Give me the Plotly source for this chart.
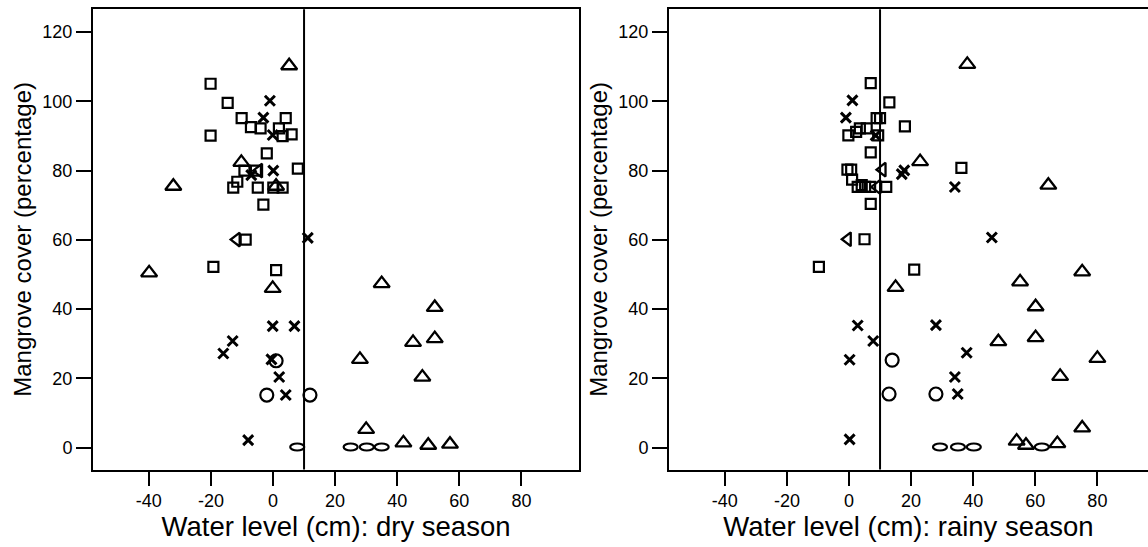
import plotly.graph_objects as go

# ---------------- data: dry season (left panel) ----------------
dry_sq_x = [-20.1, -14.6, -10.1, 4.1, -7.1, -4.0, 1.9, -20.1, 3.1, 6.0, -2.0, 8.0, -9.2, -5.5,
            -11.5, -12.8, -4.9, 0.1, 3.1, -3.1, -8.8, -19.2, 1.0]
dry_sq_y = [105.1, 99.6, 95.2, 95.2, 92.6, 92.2, 92.2, 90.1, 90.0, 90.5, 85.0, 80.6, 80.0, 80.0,
            76.8, 75.1, 75.1, 75.1, 75.1, 70.2, 60.1, 52.2, 51.3]
dry_x_x = [-1.0, -3.1, -0.1, 0.1, -7.0, 11.2, -0.1, 6.9, -13.0, -16.0, -0.5, 2.0, 4.1, -8.0]
dry_x_y = [100.2, 95.3, 90.3, 80.0, 78.7, 60.6, 35.1, 35.1, 30.8, 27.2, 25.5, 20.4, 15.2, 2.2]
dry_tri_x = [5.2, -10.2, -32.1, 1.0, -39.9, -0.1, 35.0, 52.1, 45.1, 52.1, 28.0, 48.1, 30.0, 42.0, 50.0, 57.0]
dry_tri_y = [110.3, 82.4, 75.5, 75.5, 50.5, 46.0, 47.4, 40.5, 30.4, 31.5, 25.5, 20.4, 5.3, 1.4, 0.7, 1.0]
dry_ltri_x = [-11.7, -4.5]
dry_ltri_y = [60.1, 80.0]
dry_circ_x = [1.0, -2.0, 11.9]
dry_circ_y = [25.1, 15.2, 15.2]
dry_ell_x = [7.8, 25.0, 30.2, 35.0]
dry_ell_y = [0.2, 0.2, 0.2, 0.2]

# ---------------- data: rainy season (right panel) ----------------
wet_sq_x = [7.0, 13.0, 8.9, 10.0, 18.0, 3.5, 5.7, 2.3, -0.2, 9.4, 7.0, 36.2, -0.5, 0.7, 1.0,
            2.8, 4.1, 5.2, 6.8, 12.0, 7.0, 5.0, -9.7, 21.0]
wet_sq_y = [105.3, 99.7, 95.2, 95.2, 92.8, 92.2, 92.2, 91.2, 90.2, 90.2, 85.3, 80.8, 80.3, 80.3, 77.4,
            75.3, 75.8, 75.3, 75.3, 75.3, 70.4, 60.2, 52.2, 51.4]
wet_x_x = [1.1, -1.0, 8.6, 17.8, 17.0, 34.1, 46.0, 2.8, 28.0, 7.8, 37.9, 0.2, 34.1, 35.0, 0.2]
wet_x_y = [100.3, 95.3, 90.2, 80.1, 79.0, 75.3, 60.7, 35.3, 35.4, 30.8, 27.4, 25.4, 20.4, 15.5, 2.4]
wet_tri_x = [38.1, 22.9, 64.2, 75.1, 55.1, 15.0, 60.1, 60.1, 48.1, 80.0, 68.0, 75.1, 54.0, 57.0, 67.1]
wet_tri_y = [110.7, 82.6, 75.8, 50.8, 47.9, 46.3, 40.7, 31.8, 30.6, 25.8, 20.6, 5.7, 1.9, 0.7, 1.2]
wet_ltri_x = [10.8, 9.1, -0.4]
wet_ltri_y = [80.3, 75.3, 60.2]
wet_circ_x = [13.9, 12.9, 28.0]
wet_circ_y = [25.3, 15.5, 15.5]
wet_ell_x = [29.3, 35.1, 40.2, 62.1]
wet_ell_y = [0.2, 0.2, 0.2, 0.2]

x_ticks = [-40, -20, 0, 20, 40, 60, 80]
y_ticks = [0, 20, 40, 60, 80, 100, 120]
threshold = 10

FONT = "Liberation Sans, Arial, sans-serif"
fig = go.Figure()


def add_panel(xa, ya, sq, xx, tri, ltri, circ, ell):
    common = dict(mode="markers", xaxis=xa, yaxis=ya, showlegend=False, hoverinfo="x+y")
    fig.add_trace(go.Scatter(x=sq[0], y=sq[1], marker=dict(symbol="square-open", size=10, color="black",
                                                               line=dict(width=2.2, color="black")), **common))
    fig.add_trace(go.Scatter(x=tri[0], y=tri[1], marker=dict(symbol="triangle-up-open", size=14, color="black",
                                                                 line=dict(width=2.3, color="black")), **common))
    fig.add_trace(go.Scatter(x=ltri[0], y=ltri[1], marker=dict(symbol="triangle-left-open", size=12, color="black",
                                                                   line=dict(width=2.3, color="black")), **common))
    fig.add_trace(go.Scatter(x=circ[0], y=circ[1], marker=dict(symbol="circle-open", size=13, color="black",
                                                                   line=dict(width=2.2, color="black")), **common))
    fig.add_trace(go.Scatter(x=xx[0], y=xx[1], marker=dict(symbol="x-thin-open", size=10, color="black",
                                                               line=dict(width=3, color="black")), **common))
    xref = "x" if xa == "x" else "x2"
    yref = "y" if ya == "y" else "y2"
    for ex, ey in zip(ell[0], ell[1]):
        fig.add_shape(type="circle", xref=xref, yref=yref, xsizemode="pixel", ysizemode="pixel",
                      xanchor=ex, yanchor=ey, x0=-7, x1=7, y0=-3.5, y1=3.5,
                      line=dict(color="black", width=2.2))
    fig.add_shape(type="line", xref=xref, yref=f"{yref} domain", x0=threshold, x1=threshold, y0=0, y1=1,
                  line=dict(color="black", width=2))


add_panel("x", "y", (dry_sq_x, dry_sq_y), (dry_x_x, dry_x_y), (dry_tri_x, dry_tri_y),
          (dry_ltri_x, dry_ltri_y), (dry_circ_x, dry_circ_y), (dry_ell_x, dry_ell_y))
add_panel("x2", "y2", (wet_sq_x, wet_sq_y), (wet_x_x, wet_x_y), (wet_tri_x, wet_tri_y),
          (wet_ltri_x, wet_ltri_y), (wet_circ_x, wet_circ_y), (wet_ell_x, wet_ell_y))

W, H = 1148, 547
ydom = [1 - 469.5 / H, 1 - 9.3 / H]
yrange = [-6.3, 126.6]

xcommon = dict(tickvals=x_ticks, ticktext=[str(v) for v in x_ticks], ticks="outside", ticklen=14, tickwidth=2,
               tickcolor="black", showline=True, linecolor="black", linewidth=2, showgrid=False, zeroline=False,
               tickfont=dict(family=FONT, size=18, color="black"),
               title=dict(font=dict(family=FONT, size=27.5, color="black"), standoff=6))
ycommon = dict(tickvals=y_ticks, ticktext=[str(v) for v in y_ticks], ticks="outside", ticklen=15, tickwidth=2,
               tickcolor="black", showline=True, linecolor="black", linewidth=2, showgrid=False, zeroline=False,
               range=yrange, domain=ydom,
               tickfont=dict(family=FONT, size=18, color="black"),
               title=dict(text="Mangrove cover (percentage)", font=dict(family=FONT, size=24, color="black"),
                          standoff=4))

fig.update_layout(
    width=W, height=H, margin=dict(l=0, r=0, t=0, b=0),
    paper_bgcolor="white", plot_bgcolor="white",
    xaxis=dict(domain=[93 / W, 579 / W], range=[-57.97, 98.55], mirror=True, anchor="y",
               **{**xcommon, "title": dict(text="Water level (cm): dry season", **xcommon["title"])}),
    yaxis=dict(anchor="x", mirror=True, **ycommon),
    xaxis2=dict(domain=[669 / W, 1.0], range=[-57.97, 96.30], mirror=True, anchor="y2",
                **{**xcommon, "title": dict(text="Water level (cm): rainy season", **xcommon["title"])}),
    yaxis2=dict(anchor="x2", mirror=False, **ycommon),
)

fig.write_html("out.html")
